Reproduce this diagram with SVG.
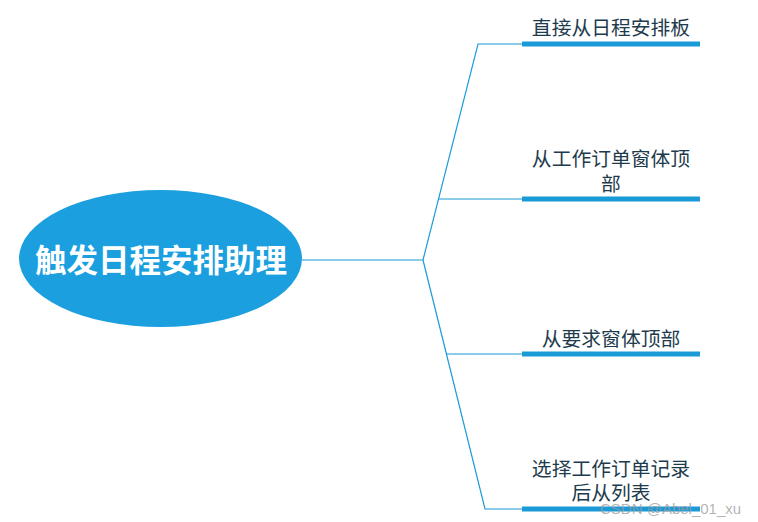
<svg xmlns="http://www.w3.org/2000/svg" width="758" height="522" viewBox="0 0 758 522">
<style>
.conn{fill:none;stroke:#1b9ad8;stroke-width:1.2}
.bar{fill:#1b9ad8}
.lbl{font-family:"Noto Sans CJK SC","Noto Sans",sans-serif;font-size:19.8px;fill:#1d3b4c;text-anchor:middle;dominant-baseline:central}
.root{font-family:"Noto Sans CJK SC","Noto Sans",sans-serif;font-size:31.5px;font-weight:bold;fill:#ffffff;text-anchor:middle;dominant-baseline:central}
.wm{font-family:"Liberation Sans",Arial,sans-serif;font-size:15px;fill:#9a9a9a;fill-opacity:0.75}
</style>
<rect width="758" height="522" fill="#ffffff"/>
<g id="connectors">
<polyline class="conn" points="302,260 423,260 478,44 522,44"/>
<polyline class="conn" points="438.5,199 522,199"/>
<polyline class="conn" points="423,260 485,509 522,509"/>
<polyline class="conn" points="446.5,354 522,354"/>
</g>
<g id="root">
<ellipse cx="160.5" cy="258.5" rx="141.5" ry="68.5" fill="#1b9fdf"/>
<text class="root" x="161" y="258">触发日程安排助理</text>
</g>
<g id="n1">
<rect class="bar" x="522" y="41.5" width="178" height="5"/>
<text class="lbl" x="611" y="26">直接从日程安排板</text>
</g>
<g id="n2">
<rect class="bar" x="522" y="196.5" width="178" height="5"/>
<text class="lbl"><tspan x="611" y="157">从工作订单窗体顶</tspan><tspan x="611" y="182">部</tspan></text>
</g>
<g id="n3">
<rect class="bar" x="522" y="351.5" width="178" height="5"/>
<text class="lbl" x="611" y="337">从要求窗体顶部</text>
</g>
<g id="n4">
<rect class="bar" x="522" y="506.5" width="178" height="5"/>
<text class="lbl"><tspan x="611" y="467">选择工作订单记录</tspan><tspan x="611" y="491">后从列表</tspan></text>
</g>
<text class="wm" x="600" y="514">CSDN @Abel_01_xu</text>
</svg>
